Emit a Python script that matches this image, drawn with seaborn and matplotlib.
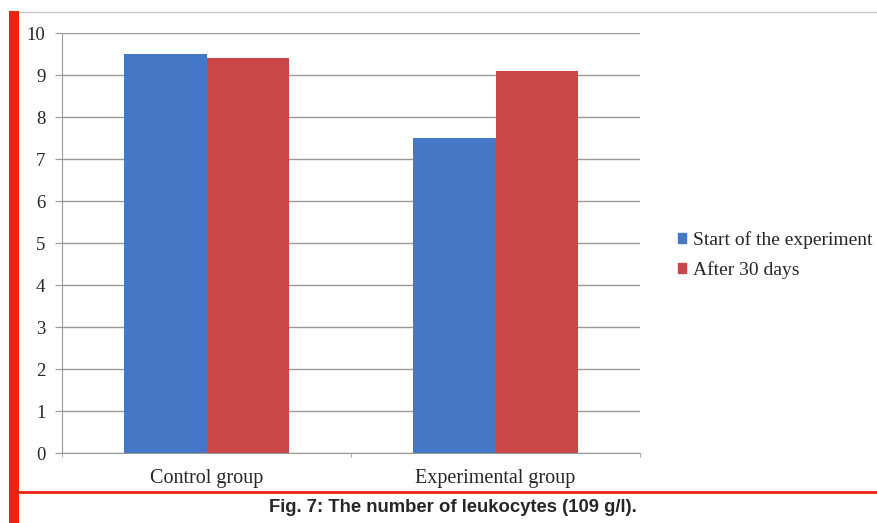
import matplotlib
matplotlib.use("Agg")
import matplotlib.pyplot as plt
import seaborn as sns
import pandas as pd
from matplotlib.lines import Line2D
from matplotlib.patches import Rectangle

groups = ["Control group", "Experimental group"]
series = ["Start of the experiment", "After 30 days"]
start_vals = [9.5, 7.5]
after_vals = [9.4, 9.1]
yticks = [0, 1, 2, 3, 4, 5, 6, 7, 8, 9, 10]
caption = "Fig. 7: The number of leukocytes (109 g/l)."

df = pd.DataFrame({
    "group": groups * 2,
    "series": [series[0]] * 2 + [series[1]] * 2,
    "value": start_vals + after_vals,
})

sns.set_style("white")
plt.rcParams["font.family"] = ["Liberation Serif", "DejaVu Serif"]

fig = plt.figure(figsize=(8.77, 5.23), dpi=100)
ax = fig.add_axes([62 / 877, 1 - 453 / 523, (640 - 62) / 877, (453 - 33) / 523])

palette = ["#4478C6", "#CB4646"]
sns.barplot(data=df, x="group", y="value", hue="series", palette=palette,
            width=0.574, saturation=1, ax=ax, legend=False, edgecolor="none")

ax.set_xlim(-0.5, 1.5)
ax.set_ylim(0, 10)
ax.set_yticks(yticks)
ax.yaxis.grid(True, color="#999999", linewidth=1)
ax.set_axisbelow(True)
ax.set_xlabel("")
ax.set_ylabel("")
for s in ["top", "right"]:
    ax.spines[s].set_visible(False)
ax.spines["left"].set_color("#999999")
ax.spines["bottom"].set_color("#999999")
ax.tick_params(axis="y", which="major", left=True, length=5, color="#999999",
               labelsize=13.5, pad=7)
ax.tick_params(axis="x", which="major", bottom=False, labelsize=14.5, pad=8)
ax.set_xticks([-0.5, 0.5, 1.5], minor=True)
ax.tick_params(axis="x", which="minor", bottom=True, length=3, color="#999999")

handles = [Rectangle((0, 0), 1, 1, color=c) for c in palette]
fig.legend(handles, series, loc="center left", bbox_to_anchor=(666 / 877, 1 - 255 / 523),
           frameon=False, fontsize=14, handlelength=0.45, handleheight=0.45,
           handletextpad=0.35, labelspacing=0.6, borderaxespad=0.2)

# frame decorations
fig.add_artist(Rectangle((9 / 877, 0), 10 / 877, 1 - 11 / 523, transform=fig.transFigure,
                         color="#EE2211", lw=0))
fig.add_artist(Line2D([19 / 877, 1], [1 - 12 / 523, 1 - 12 / 523], transform=fig.transFigure,
                      color="#c8c8c8", lw=1))
fig.add_artist(Line2D([19 / 877, 1], [1 - 492 / 523, 1 - 492 / 523], transform=fig.transFigure,
                      color="#EE2211", lw=2))
fig.text(453 / 877, 1 - 507 / 523, caption, ha="center", va="center",
         fontsize=13.3, fontweight="bold", family=["Liberation Sans", "DejaVu Sans"])

fig.savefig("out.png", dpi=100)
